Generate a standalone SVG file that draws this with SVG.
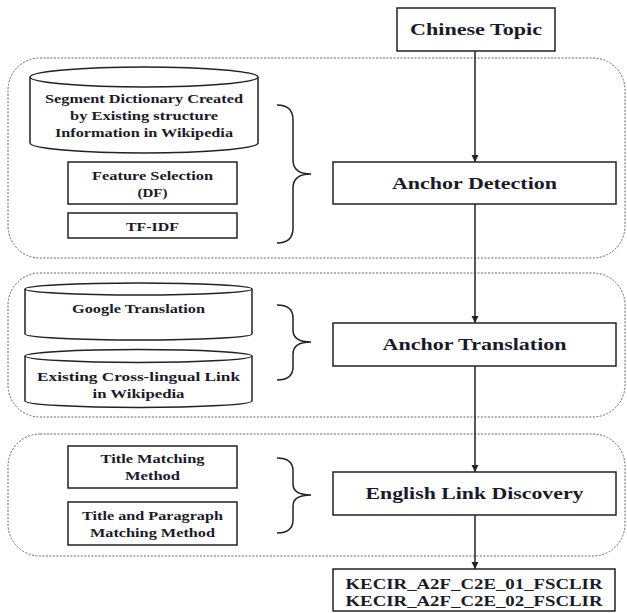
<svg xmlns="http://www.w3.org/2000/svg" width="627" height="613" viewBox="0 0 627 613">
<defs>
<marker id="arr" markerWidth="8" markerHeight="8" refX="7" refY="4" orient="auto" markerUnits="userSpaceOnUse">
<path d="M0,0.5 L7,4 L0,7.5 Z" fill="#222"/>
</marker>
<style>
.box{fill:#fff;stroke:#222;stroke-width:1.5}
.grp{fill:none;stroke:#666;stroke-width:1;stroke-dasharray:2,1.5}
.brace{fill:none;stroke:#222;stroke-width:1.5}
.con{stroke:#222;stroke-width:1.5;fill:none}
text{font-family:"Liberation Serif","Times New Roman",serif;font-weight:bold;fill:#1a1a2a;text-anchor:middle}
.s{font-size:13px}
.m{font-size:15px}
.l{font-size:17px}
</style>
</defs>
<rect width="627" height="613" fill="#fff"/>
<g id="groups">
<rect class="grp" x="8" y="58" width="617" height="200" rx="32" ry="32"/>
<rect class="grp" x="8" y="273" width="617" height="144" rx="32" ry="32"/>
<rect class="grp" x="8" y="434" width="617" height="122" rx="32" ry="32"/>
</g>
<g id="connectors">
<line class="con" x1="475" y1="51" x2="475" y2="162" marker-end="url(#arr)"/>
<line class="con" x1="475" y1="204" x2="475" y2="323" marker-end="url(#arr)"/>
<line class="con" x1="475" y1="366" x2="475" y2="472" marker-end="url(#arr)"/>
<line class="con" x1="475" y1="515" x2="475" y2="569" marker-end="url(#arr)"/>
<path class="brace" d="M277,105 Q293,105 293,120 L293,160 Q293,174 311,174 Q293,174 293,188 L293,228 Q293,243 277,243"/>
<path class="brace" d="M277,305 Q293,305 293,318 L293,330 Q293,342 311,342 Q293,342 293,354 L293,367 Q293,380 277,380"/>
<path class="brace" d="M277,458 Q293,458 293,471 L293,484 Q293,495 311,495 Q293,495 293,506 L293,520 Q293,533 277,533"/>
</g>
<g id="chinese-topic">
<rect class="box" x="397" y="8" width="158" height="43"/>
<text class="l" x="476" y="35" textLength="132" lengthAdjust="spacingAndGlyphs">Chinese Topic</text>
</g>
<g id="segment-dictionary">
<path class="box" d="M30,77 A114,10 0 0 1 258,77 L258,143 A114,10 0 0 1 30,143 Z"/>
<path class="box" d="M30,77 A114,10 0 0 0 258,77" fill="none"/>
<text class="s" x="144" y="103" textLength="198" lengthAdjust="spacingAndGlyphs">Segment Dictionary Created</text>
<text class="s" x="144" y="120" textLength="148" lengthAdjust="spacingAndGlyphs">by Existing structure</text>
<text class="s" x="144" y="137" textLength="178" lengthAdjust="spacingAndGlyphs">Information in Wikipedia</text>
</g>
<g id="feature-selection">
<rect class="box" x="68" y="162" width="169" height="42"/>
<text class="s" x="152.5" y="180" textLength="121" lengthAdjust="spacingAndGlyphs">Feature Selection</text>
<text class="s" x="152.5" y="197" textLength="30" lengthAdjust="spacingAndGlyphs">(DF)</text>
</g>
<g id="tf-idf">
<rect class="box" x="68" y="213" width="169" height="25"/>
<text class="s" x="152.5" y="231" textLength="53" lengthAdjust="spacingAndGlyphs">TF-IDF</text>
</g>
<g id="anchor-detection">
<rect class="box" x="333" y="162" width="283" height="42"/>
<text class="l" x="474.5" y="189" textLength="165" lengthAdjust="spacingAndGlyphs">Anchor Detection</text>
</g>
<g id="google-translation">
<path class="box" d="M25,289 A113.5,6 0 0 1 252,289 L252,334 A113.5,6 0 0 1 25,334 Z"/>
<path class="box" d="M25,289 A113.5,6 0 0 0 252,289" fill="none"/>
<text class="s" x="138.5" y="313" textLength="133" lengthAdjust="spacingAndGlyphs">Google Translation</text>
</g>
<g id="cross-lingual-link">
<path class="box" d="M25,356 A113.5,6.5 0 0 1 252,356 L252,401 A113.5,6.5 0 0 1 25,401 Z"/>
<path class="box" d="M25,356 A113.5,6.5 0 0 0 252,356" fill="none"/>
<text class="s" x="138.5" y="381" textLength="203" lengthAdjust="spacingAndGlyphs">Existing Cross-lingual Link</text>
<text class="s" x="138.5" y="398" textLength="92" lengthAdjust="spacingAndGlyphs">in Wikipedia</text>
</g>
<g id="anchor-translation">
<rect class="box" x="333" y="323" width="283" height="43"/>
<text class="l" x="474.5" y="350" textLength="184" lengthAdjust="spacingAndGlyphs">Anchor Translation</text>
</g>
<g id="title-matching">
<rect class="box" x="68" y="446" width="169" height="42"/>
<text class="s" x="152.5" y="463" textLength="104" lengthAdjust="spacingAndGlyphs">Title Matching</text>
<text class="s" x="152.5" y="480" textLength="55" lengthAdjust="spacingAndGlyphs">Method</text>
</g>
<g id="title-paragraph-matching">
<rect class="box" x="68" y="502" width="169" height="43"/>
<text class="s" x="152.5" y="520" textLength="141" lengthAdjust="spacingAndGlyphs">Title and Paragraph</text>
<text class="s" x="152.5" y="537" textLength="125" lengthAdjust="spacingAndGlyphs">Matching Method</text>
</g>
<g id="english-link-discovery">
<rect class="box" x="333" y="472" width="283" height="43"/>
<text class="l" x="474.5" y="499" textLength="218" lengthAdjust="spacingAndGlyphs">English Link Discovery</text>
</g>
<g id="output-runs">
<rect class="box" x="333" y="569" width="282" height="42"/>
<text class="m" x="474" y="589" textLength="257" lengthAdjust="spacingAndGlyphs">KECIR_A2F_C2E_01_FSCLIR</text>
<text class="m" x="474" y="606" textLength="257" lengthAdjust="spacingAndGlyphs">KECIR_A2F_C2E_02_FSCLIR</text>
</g>
</svg>
